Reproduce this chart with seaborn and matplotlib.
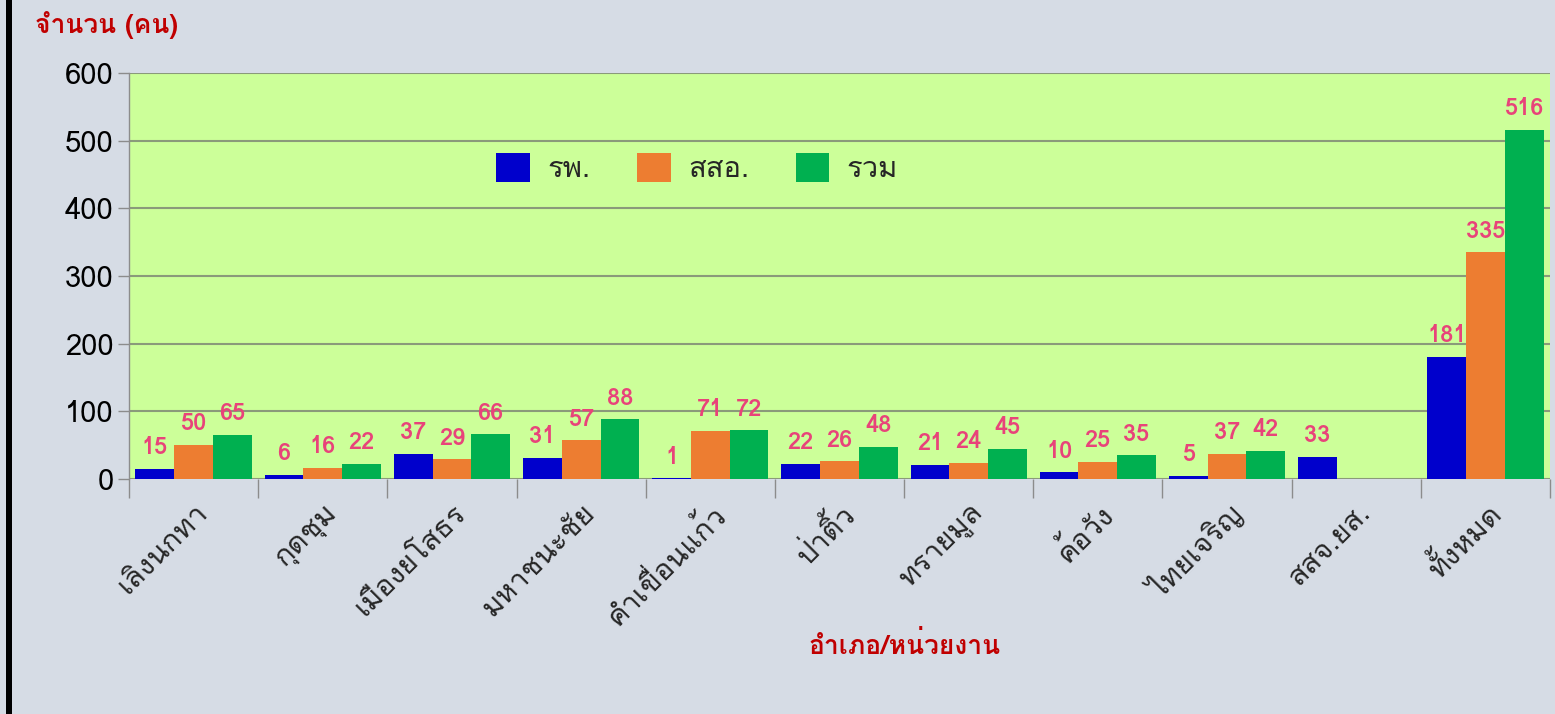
import numpy as np
import pandas as pd
import matplotlib
matplotlib.use('Agg')
import matplotlib.pyplot as plt
from matplotlib import font_manager
from matplotlib.patches import Rectangle
import seaborn as sns

# Data
districts = ['เลิงนกทา', 'กุดชุม', 'เมืองยโสธร', 'มหาชนะชัย', 'คำเขื่อนแก้ว', 'ป่าติ้ว',
             'ทรายมูล', 'ค้อวัง', 'ไทยเจริญ', 'สสจ.ยส.', 'ทั้งหมด']
hospital = [15, 6, 37, 31, 1, 22, 21, 10, 5, 33, 181]
health_office = [50, 16, 29, 57, 71, 26, 24, 25, 37, np.nan, 335]
total = [65, 22, 66, 88, 72, 48, 45, 35, 42, np.nan, 516]
series_names = ['รพ.', 'สสอ.', 'รวม']
colors = ['#0000CC', '#ED7D31', '#00B050']
y_ticks = [0, 100, 200, 300, 400, 500, 600]


def find_thai_font():
    # look for an installed font that has Thai glyphs
    try:
        from fontTools.ttLib import TTFont
    except ImportError:
        return None
    for f in font_manager.fontManager.ttflist:
        try:
            tt = TTFont(f.fname, fontNumber=0, lazy=True)
            cmap = tt.getBestCmap()
        except Exception:
            continue
        if cmap and 0x0E01 in cmap:
            return f.name
    return None


sns.set_theme(style='white')
thai = find_thai_font()
families = [thai, 'DejaVu Sans'] if thai else ['DejaVu Sans']
plt.rcParams['font.family'] = families

df = pd.DataFrame({'อำเภอ': districts, series_names[0]: hospital,
                   series_names[1]: health_office, series_names[2]: total})
df_long = df.melt(id_vars='อำเภอ', var_name='series', value_name='count').dropna()

fig = plt.figure(figsize=(15.55, 7.14), dpi=100, facecolor='#D6DCE5')
ax = fig.add_axes([129 / 1555, 1 - 479 / 714, (1550 - 129) / 1555, (479 - 73) / 714])
ax.set_facecolor('#CCFF99')

sns.barplot(data=df_long, x='อำเภอ', y='count', hue='series', order=districts,
            hue_order=series_names, palette=colors, width=0.9, gap=0,
            saturation=1, errorbar=None, linewidth=0, ax=ax)

label_color = '#E8437A'
for cont in ax.containers:
    ax.bar_label(cont, fmt='%g', padding=7, color=label_color, fontsize=17,
                 fontweight='bold')

ax.set_ylim(0, 600)
ax.set_xlim(-0.5, len(districts) - 0.5)
ax.set_yticks(y_ticks)
ax.tick_params(axis='y', labelsize=21, length=8, width=1, color='#8C8C8C',
               pad=3, left=True, labelcolor='black')
ax.grid(axis='y', color='#8A9A7A', linewidth=1.5)
ax.set_axisbelow(True)

# x ticks: labels at centres, tick marks at group boundaries
ax.set_xticks(np.arange(-0.5, len(districts), 1), minor=True)
ax.tick_params(axis='x', which='major', length=0, pad=14, labelsize=21)
ax.tick_params(axis='x', which='minor', length=14, width=1, color='#8C8C8C',
               bottom=True)
for lbl in ax.get_xticklabels():
    lbl.set_rotation(45)
    lbl.set_ha('right')
    lbl.set_rotation_mode('anchor')

for side in ['top', 'right', 'bottom']:
    ax.spines[side].set_visible(False)
ax.spines['left'].set_color('#8C8C8C')
ax.spines['left'].set_linewidth(1)

ax.set_xlabel('')
ax.set_ylabel('')
fig.text(35 / 1555, 1 - 25 / 714, 'จำนวน (คน)', color='#C00000', fontsize=19,
         fontweight='bold', ha='left', va='center')
fig.text(905 / 1555, 1 - 645 / 714, 'อำเภอ/หน่วยงาน', color='#C00000', fontsize=19,
         fontweight='bold', ha='center', va='center')

handles, labels = ax.get_legend_handles_labels()
ax.legend(handles, labels, loc='center left', bbox_to_anchor=(0.24, 0.766),
          ncol=3, frameon=False, fontsize=21, handlelength=1.15, handleheight=1.15,
          handletextpad=0.6, columnspacing=1.6)

# black frame on the left edge
fig.add_artist(Rectangle((6 / 1555, 0), 6 / 1555, 1, transform=fig.transFigure,
                         color='black', lw=0))

fig.savefig('out.png', dpi=100, facecolor=fig.get_facecolor())
